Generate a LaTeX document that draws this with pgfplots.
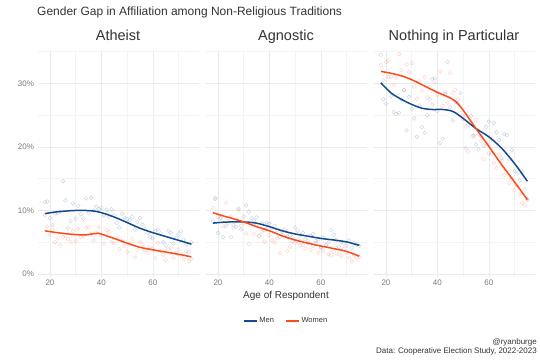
\documentclass[border=0pt]{standalone}
\usepackage{pgfplots}
\pgfplotsset{compat=1.18}
\usepackage{pgfplotstable}
\usepackage{fontspec}
\setmainfont{Liberation Sans}
\definecolor{menc}{HTML}{134A8E}
\definecolor{womc}{HTML}{FF4A17}
\definecolor{tickc}{HTML}{7A7A7A}
\definecolor{gridc}{HTML}{EBEBEB}
\definecolor{textc}{HTML}{333333}

\pgfplotstableread{
age men women
18 11.3 9.3
19 11.4 7.5
20 8.8 6.2
21 7.7 7.0
22 9.5 5.0
23 9.6 5.6
24 9.8 4.5
25 14.6 5.8
26 11.6 6.0
27 7.2 5.5
28 8.3 5.0
29 11.1 6.8
30 8.7 5.2
31 10.7 7.1
32 9.4 5.8
33 8.7 6.0
34 11.9 7.2
35 9.6 7.4
36 12.0 6.3
37 10.0 5.3
38 10.6 6.5
39 10.2 7.3
40 10.4 6.0
41 9.2 4.8
42 10.1 6.9
43 9.0 6.6
44 10.2 5.0
45 9.2 4.8
46 8.0 5.6
47 7.3 3.9
48 9.5 5.2
49 8.9 4.4
50 8.6 3.5
51 8.5 4.8
52 9.0 5.5
53 7.0 2.6
54 8.2 3.8
55 8.8 5.0
56 7.8 4.6
57 7.1 3.7
58 6.4 3.3
59 5.8 4.2
60 5.6 4.0
61 6.8 2.5
62 7.0 4.9
63 6.4 3.6
64 5.0 3.0
65 4.5 2.2
66 6.8 3.9
67 6.5 4.1
68 4.8 2.6
69 5.7 3.3
70 6.2 3.8
71 6.7 2.9
72 5.4 2.3
73 4.6 3.6
74 3.5 2.0
75 5.0 2.4
}\ath

\pgfplotstableread{
age men women
18 8.3 10.4
19 11.8 12.0
20 6.5 9.0
21 8.8 8.8
22 5.8 7.5
23 7.5 11.2
24 8.0 8.3
25 5.8 9.0
26 7.7 7.3
27 7.4 8.6
28 10.3 10.1
29 7.0 7.6
30 9.0 8.0
31 10.8 6.4
32 9.8 4.7
33 8.8 7.9
34 8.4 6.3
35 8.9 7.8
36 6.0 6.0
37 8.0 6.6
38 6.9 5.1
39 8.1 7.0
40 7.9 6.1
41 7.2 5.3
42 7.6 4.9
43 6.9 5.6
44 5.8 3.3
45 6.6 6.7
46 7.0 5.9
47 5.9 3.6
48 6.2 4.3
49 5.1 5.8
50 7.3 4.9
51 6.8 5.4
52 6.1 4.5
53 6.5 4.6
54 5.5 4.0
55 4.9 5.2
56 6.0 3.8
57 6.3 4.4
58 5.2 4.9
59 5.4 3.4
60 4.2 4.1
61 5.7 3.7
62 4.5 4.6
63 5.0 3.1
64 6.9 2.9
65 6.2 3.5
66 5.4 4.2
67 4.3 3.2
68 5.1 2.8
69 4.8 3.9
70 4.4 3.4
71 5.3 2.6
72 4.1 2.0
73 4.9 3.0
74 4.6 2.5
75 4.4 2.7
}\agn

\pgfplotstableread{
age men women
18 34.5 32.9
19 27.5 30.5
20 26.8 33.4
21 31.0 33.6
22 28.0 31.0
23 25.5 29.8
24 25.2 30.9
25 25.4 34.6
26 27.5 32.1
27 29.0 29.0
28 22.6 33.0
29 27.9 31.8
30 26.0 33.2
31 24.5 29.5
32 21.6 27.6
33 26.5 30.4
34 23.1 28.9
35 22.2 31.0
36 25.0 27.8
37 27.5 29.4
38 30.7 26.7
39 30.8 30.1
40 25.6 28.2
41 20.6 31.9
42 21.3 26.5
43 28.4 28.7
44 33.4 27.0
45 26.3 31.6
46 24.2 28.5
47 27.1 29.0
48 26.9 27.5
49 28.5 25.3
50 24.8 24.4
51 19.8 23.2
52 23.5 19.3
53 24.9 23.9
54 21.8 21.6
55 20.4 24.3
56 19.6 22.0
57 21.7 21.0
58 20.2 18.1
59 23.2 20.5
60 24.0 19.0
61 19.0 21.3
62 23.8 17.5
63 22.3 16.7
64 21.1 18.8
65 18.2 17.8
66 22.0 15.6
67 21.9 16.3
68 18.0 14.3
69 19.5 15.0
70 16.2 13.2
71 15.8 13.9
72 14.7 12.5
73 16.1 11.2
74 13.3 10.8
75 11.8 11.6
}\nip

\pgfplotsset{
  panel/.style={
    scale only axis, width=161.2pt, height=226.7pt,
    xmin=15.15, xmax=77.85, ymin=-0.4, ymax=35.3,
    axis line style={draw=none}, tick style={draw=none},
    xtick={20,40,60}, xticklabels={20,40,60}, minor xtick={30,50,70},
    ytick={0,10,20,30}, minor ytick={5,15,25,35},
    grid=both,
    major grid style={gridc, line width=0.6pt},
    minor grid style={gridc!60, line width=0.45pt},
    ticklabel style={font=\fontsize{8}{9}\selectfont, text=tickc},
  },
  pts/.style={only marks, mark=o, mark size=1.9pt, mark options={line width=0.4pt, draw opacity=0.25}, forget plot},
  crv/.style={line width=1.5pt, smooth, no marks},
}

\begin{document}
\begin{tikzpicture}
\useasboundingbox (0,0) rectangle (540pt,360pt);

% Atheist
\begin{axis}[panel, at={(37.5pt,83.5pt)}, anchor=south west,
  yticklabels={0\%,10\%,20\%,30\%}]
\addplot[pts, menc] table[x=age, y=men] {\ath};
\addplot[pts, womc] table[x=age, y=women] {\ath};
\addplot[crv, menc] coordinates {(18,9.5) (22,9.75) (26,9.9) (30,10.0) (34,10.0) (38,9.85) (42,9.4) (46,8.8) (50,8.1) (55,7.2) (60,6.5) (65,5.9) (70,5.3) (75,4.7)};
\addplot[crv, womc] coordinates {(18,6.8) (22,6.55) (26,6.35) (30,6.2) (34,6.15) (37,6.35) (39,6.4) (42,6.0) (46,5.45) (50,4.85) (55,4.2) (60,3.8) (65,3.45) (70,3.1) (75,2.7)};
\end{axis}

% Agnostic
\begin{axis}[panel, at={(205.5pt,83.5pt)}, anchor=south west,
  yticklabels={},
  legend style={at={(0.5,-0.196)}, anchor=center, draw=none, fill=none,
    font=\fontsize{7.5}{9}\selectfont, text=textc,
    legend columns=2, /tikz/every even column/.append style={column sep=9pt}},
  legend image code/.code={\draw[#1] (0pt,0pt) -- (13pt,0pt);}]
\addplot[pts, menc] table[x=age, y=men] {\agn};
\addplot[pts, womc] table[x=age, y=women] {\agn};
\addplot[crv, menc] coordinates {(18,8.0) (22,8.15) (26,8.2) (30,8.2) (35,8.0) (40,7.45) (45,6.8) (50,6.3) (55,5.95) (60,5.6) (65,5.35) (70,5.05) (75,4.5)};
\addlegendentry{Men}
\addplot[crv, womc] coordinates {(18,9.65) (22,9.15) (26,8.7) (30,8.2) (35,7.45) (40,6.8) (45,6.0) (50,5.35) (55,4.85) (60,4.4) (65,4.0) (70,3.55) (75,2.8)};
\addlegendentry{Women}
\end{axis}

% Nothing in Particular
\begin{axis}[panel, at={(373.5pt,83.5pt)}, anchor=south west,
  yticklabels={}]
\addplot[pts, menc] table[x=age, y=men] {\nip};
\addplot[pts, womc] table[x=age, y=women] {\nip};
\addplot[crv, menc] coordinates {(18,30.1) (22,28.5) (26,27.5) (30,26.7) (34,26.1) (38,25.9) (42,25.9) (46,25.6) (50,24.5) (55,22.9) (60,21.6) (65,19.8) (70,17.4) (75,14.6)};
\addplot[crv, womc] coordinates {(18,31.9) (22,31.6) (26,31.2) (30,30.6) (35,29.6) (40,28.6) (44,27.9) (47,27.2) (50,25.8) (55,22.9) (60,20.1) (65,17.2) (70,14.5) (75,11.7)};
\end{axis}

% Titles and labels
\node[anchor=base west, font=\fontsize{12}{14}\selectfont, text=textc, inner sep=0pt] at (37pt,344.5pt) {Gender Gap in Affiliation among Non-Religious Traditions};
\node[anchor=base, font=\fontsize{14.5}{17}\selectfont, text=textc, inner sep=0pt] at (118pt,319.5pt) {Atheist};
\node[anchor=base, font=\fontsize{14.5}{17}\selectfont, text=textc, inner sep=0pt] at (286pt,319.5pt) {Agnostic};
\node[anchor=base, font=\fontsize{14.5}{17}\selectfont, text=textc, inner sep=0pt] at (454pt,319.5pt) {Nothing in Particular};
\node[anchor=base, font=\fontsize{10}{12}\selectfont, text=textc, inner sep=0pt] at (286pt,61.7pt) {Age of Respondent};
\node[anchor=base east, font=\fontsize{8}{10}\selectfont, text=textc, inner sep=0pt] at (537pt,15.5pt) {@ryanburge};
\node[anchor=base east, font=\fontsize{8}{10}\selectfont, text=textc, inner sep=0pt] at (537pt,6.5pt) {Data: Cooperative Election Study, 2022-2023};
\end{tikzpicture}
\end{document}
